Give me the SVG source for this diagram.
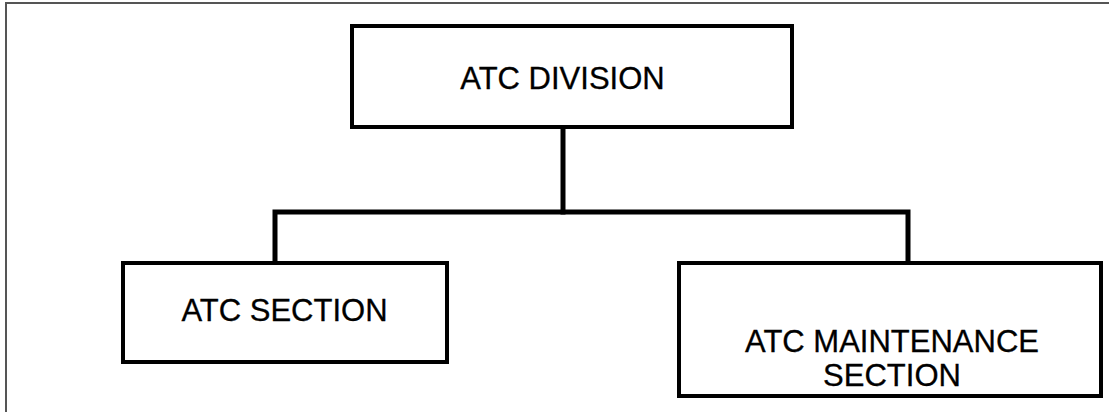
<svg xmlns="http://www.w3.org/2000/svg" width="1109" height="412" viewBox="0 0 1109 412">
<style>
.box{fill:#fff;stroke:#000;stroke-width:4}
.lbl{font-family:"Liberation Sans",Arial,sans-serif;font-size:31px;fill:#000;text-anchor:middle;stroke:#000;stroke-width:0.3}
.conn{fill:none;stroke:#000;stroke-width:5;stroke-linecap:square}
</style>
<rect width="1109" height="412" fill="#fff"/>
<path d="M6,412 V3 H1109" fill="none" stroke="#555" stroke-width="2"/>
<g id="connectors">
<path class="conn" d="M563,129 V212"/>
<path class="conn" d="M275,261 V212 H908 V261"/>
</g>
<g id="atc-division">
<rect class="box" x="352" y="26" width="440" height="101"/>
<text class="lbl" x="562.5" y="89">ATC DIVISION</text>
</g>
<g id="atc-section">
<rect class="box" x="123" y="263" width="324" height="99"/>
<text class="lbl" x="284.5" y="321">ATC SECTION</text>
</g>
<g id="atc-maintenance-section">
<rect class="box" x="679" y="263" width="422" height="133"/>
<text class="lbl" x="892" y="352">ATC MAINTENANCE</text>
<text class="lbl" x="892" y="386">SECTION</text>
</g>
</svg>
